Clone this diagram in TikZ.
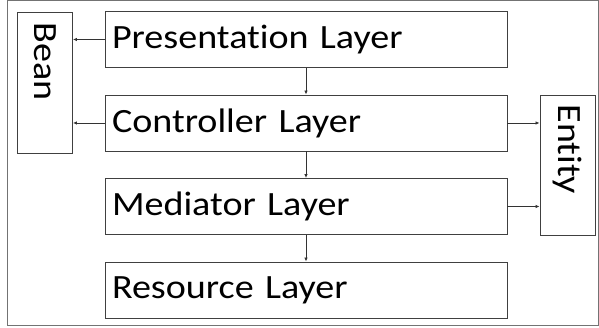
\documentclass[tikz,border=0pt]{standalone}
\usepackage{fontspec}
\setmainfont[FakeStretch=1.12, Ligatures=NoCommon]{Carlito}
\usepackage{tikz}
\usetikzlibrary{arrows.meta}

\begin{document}
\begin{tikzpicture}[x=1pt, y=1pt,
  layer/.style={draw=black!75, line width=0.9pt, rectangle, minimum height=56pt,
    text width=388pt, inner xsep=7pt, align=left, font=\fontsize{34}{40}\selectfont},
  side/.style={draw=black!75, line width=0.9pt, rectangle, minimum width=55pt},
  link/.style={draw=black!80, line width=0.8pt, -{Latex[length=4pt, width=3.5pt]}}]
  \useasboundingbox (0,0) rectangle (599,328);
  % outer frame
  \draw[black!55, line width=1pt] (7,2) rectangle (598,327);

  % layers
  \node[layer] (pres) at (306,288.5) {Presentation Layer}; % top
  \node[layer] (ctrl) at (306,205)   {Controller Layer};
  \node[layer] (med)  at (306,121.5) {Mediator Layer};
  \node[layer] (res)  at (306,38)    {Resource Layer};  % bottom

  % side boxes
  \node[side, minimum height=141pt] (bean)   at (45,245.5) {}; % left
  \node[side, minimum height=140pt] (entity) at (567.5,163) {}; % right
  \node[rotate=-90, anchor=west, font=\fontsize{34}{40}\selectfont] (beanlbl)
    at (bean.north |- 0,309) {Bean};
  \node[rotate=-90, anchor=west, font=\fontsize{34}{40}\selectfont] (entitylbl)
    at (entity.north |- 0,227) {Entity};

  % arrows down the stack
  \draw[link] (pres) -- (ctrl);
  \draw[link] (ctrl) -- (med);
  \draw[link] (med) -- (res);

  % arrows to the side boxes
  \draw[link] (pres.west) -- (pres.west -| bean.east);
  \draw[link] (ctrl.west) -- (ctrl.west -| bean.east);
  \draw[link] (ctrl.east) -- (ctrl.east -| entity.west);
  \draw[link] (med.east) -- (med.east -| entity.west);
\end{tikzpicture}
\end{document}
